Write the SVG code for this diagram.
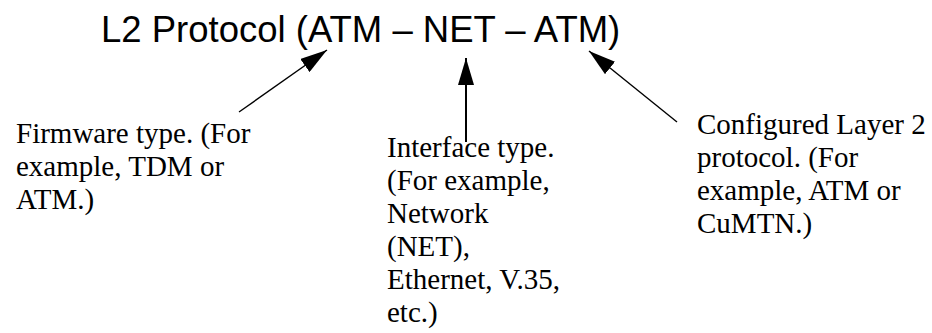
<svg xmlns="http://www.w3.org/2000/svg" width="932" height="333" viewBox="0 0 932 333">
  <style>
    .title { font-family: "Liberation Sans", Arial, sans-serif; font-size: 36.5px; fill: #000; }
    .note { font-family: "Liberation Serif", "Times New Roman", serif; font-size: 29px; fill: #000; }
    .conn { stroke: #000; stroke-width: 1.4; fill: none; marker-end: url(#head); }
    .vert { stroke-width: 2; }
  </style>
  <defs>
    <marker id="head" viewBox="0 0 27 16" refX="27" refY="8" markerWidth="27" markerHeight="16" markerUnits="userSpaceOnUse" orient="auto">
      <path d="M0,0 L27,8 L0,16 z" fill="#000"/>
    </marker>
  </defs>
  <rect width="932" height="333" fill="#fff"/>

  <g id="title">
    <text class="title" x="101" y="42">L2 Protocol (ATM – NET – ATM)</text>
  </g>

  <g id="firmware">
    <text class="note" x="16" y="143">Firmware type. (For</text>
    <text class="note" x="16" y="176">example, TDM or</text>
    <text class="note" x="16" y="209">ATM.)</text>
  </g>

  <g id="interface">
    <text class="note" x="387" y="157">Interface type.</text>
    <text class="note" x="387" y="190">(For example,</text>
    <text class="note" x="387" y="223">Network</text>
    <text class="note" x="387" y="256">(NET),</text>
    <text class="note" x="387" y="289">Ethernet, V.35,</text>
    <text class="note" x="387" y="322">etc.)</text>
  </g>

  <g id="layer2">
    <text class="note" x="697" y="133.5">Configured Layer 2</text>
    <text class="note" x="697" y="166.5">protocol. (For</text>
    <text class="note" x="697" y="199.5">example, ATM or</text>
    <text class="note" x="697" y="232.5">CuMTN.)</text>
  </g>

  <g id="connectors">
    <line class="conn" x1="239" y1="112" x2="327" y2="50"/>
    <line class="conn vert" x1="466" y1="142" x2="466" y2="58"/>
    <line class="conn" x1="677" y1="122" x2="589" y2="51"/>
  </g>
</svg>
